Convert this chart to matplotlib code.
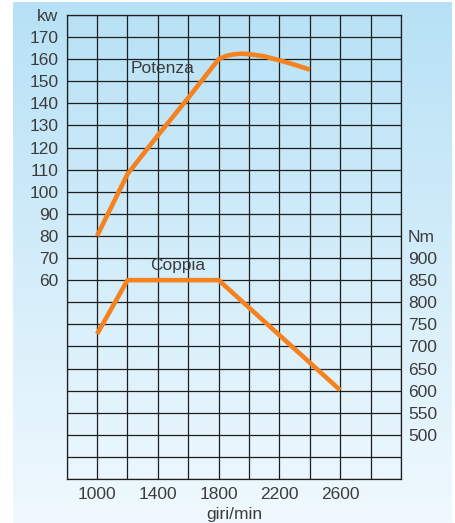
import numpy as np
import matplotlib
matplotlib.use('Agg')
import matplotlib.pyplot as plt

plt.rcParams['font.family'] = ['Liberation Sans', 'DejaVu Sans']

# dati
giri_pot = [1000, 1200, 1400, 1600, 1800, 1850, 1900, 1950, 2000, 2100, 2200, 2300, 2400]
potenza = [80, 108, 125.5, 142.5, 160, 161.5, 162.2, 162.5, 162.3, 161.3, 159.5, 157.5, 155.3]

giri_cop = [1000, 1200, 1800, 2600]
coppia = [728, 850, 850, 601]

x_labels = [1000, 1400, 1800, 2200, 2600]
kw_labels = list(range(60, 180, 10))
nm_labels = list(range(500, 950, 50))

W, H = 455, 523
fig = plt.figure(figsize=(W / 100, H / 100), dpi=100)

# sfondo azzurro sfumato
bg = fig.add_axes([13 / W, 0, (452 - 13) / W, 521 / H])
grad = np.linspace(0, 1, 256).reshape(-1, 1)
top = np.array([183, 225, 246]) / 255
bot = np.array([240, 249, 254]) / 255
img = top + (bot - top) * grad[..., None]
img = img.reshape(256, 1, 3)
bg.imshow(img, aspect='auto', extent=[0, 1, 0, 1])
bg.axis('off')

ax = fig.add_axes([66.7 / W, 1 - 479 / H, (401 - 66.7) / W, (479 - 15) / H])
ax.patch.set_alpha(0)
ax.set_xlim(800, 3000)
ax.set_ylim(-30, 180)

txt = '#3c3c3c'
fs = 12.5

ax.set_xticks(range(800, 3001, 200))
ax.set_xticklabels([str(v) if v in x_labels else '' for v in range(800, 3001, 200)])
ax.set_yticks(range(-30, 181, 10))
ylab = []
for v in range(-30, 181, 10):
    if v in kw_labels:
        ylab.append(str(v))
    elif v == 180:
        ylab.append('kw')
    else:
        ylab.append('')
ax.set_yticklabels(ylab)
ax.tick_params(length=0, labelsize=fs, labelcolor=txt, pad=6)
ax.grid(True, color='#1e1e1e', lw=0.9)
for s in ax.spines.values():
    s.set_color('#1e1e1e')
    s.set_linewidth(0.9)

ax.plot(giri_pot, potenza, color='#f5821f', lw=3.3, solid_capstyle='butt', zorder=5)

ax2 = ax.twinx()
ax2.set_ylim(400, 1450)
ax2.set_yticks(nm_labels + [950])
ax2.set_yticklabels([str(v) for v in nm_labels] + ['Nm'])
ax2.tick_params(length=0, labelsize=fs, labelcolor=txt, pad=5)
for s in ax2.spines.values():
    s.set_visible(False)
ax2.plot(giri_cop, coppia, color='#f5821f', lw=3.3, solid_capstyle='butt', zorder=5)

ax.text(1430, 156, 'Potenza', fontsize=fs, color=txt, ha='center', va='center')
ax.text(1530, 66.5, 'Coppia', fontsize=fs, color=txt, ha='center', va='center')
ax.set_xlabel('giri/min', fontsize=fs, color=txt, labelpad=3)

fig.savefig('out.png', dpi=100)
